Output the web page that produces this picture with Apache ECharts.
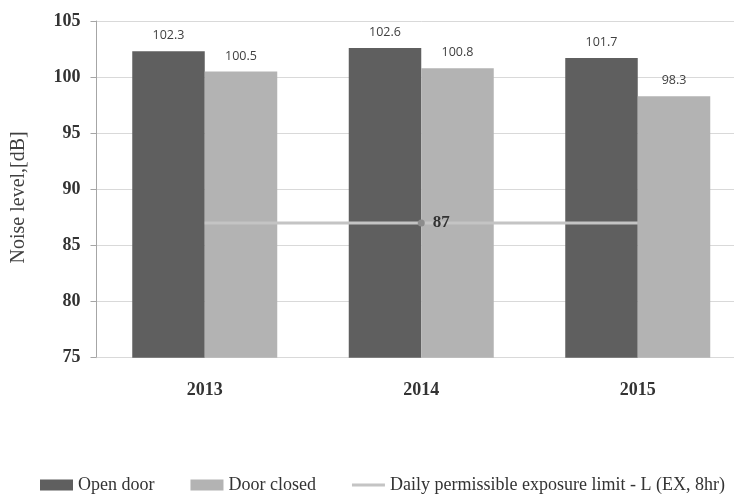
<!DOCTYPE html>
<html>
<head>
<meta charset="utf-8">
<script src="https://cdn.jsdelivr.net/npm/echarts@6/dist/echarts.min.js"></script>
<style>
  html, body { margin: 0; padding: 0; background: #ffffff; overflow: hidden; }
  #chart { width: 760px; height: 495px; }
</style>
</head>
<body>
<div id="chart"></div>
<script>
// Measured noise levels per year
const years = ['2013', '2014', '2015'];
const openDoor = [102.3, 102.6, 101.7];
const doorClosed = [100.5, 100.8, 98.3];
const exposureLimit = [87, 87, 87];
const limitLabelIndex = 1;

const yMin = 75, yMax = 105, yStep = 5;

const serif = '"Liberation Serif", "Times New Roman", serif';
const sans = '"Open Sans", "Noto Sans", sans-serif';

const chart = echarts.init(document.getElementById('chart'), null, { renderer: 'canvas' });

const valueLabel = {
  show: true,
  position: 'top',
  distance: 9,
  color: '#404040',
  fontFamily: sans,
  fontSize: 12.5,
  formatter: p => p.value.toFixed(1)
};

chart.setOption({
  animation: false,
  backgroundColor: '#ffffff',
  grid: { left: 96.5, top: 21, width: 649.5, height: 336.7, containLabel: false },
  legend: {
    left: 35,
    top: 471,
    itemWidth: 33,
    itemHeight: 11,
    itemGap: 36,
    textStyle: { fontFamily: serif, fontSize: 18, color: '#333333' },
    data: [
      { name: 'Open door', icon: 'rect' },
      { name: 'Door closed', icon: 'rect' },
      { name: 'Daily permissible exposure limit - L (EX, 8hr)', icon: 'path://M0,0H33V3H0Z', itemStyle: { color: '#c4c4c4' } }
    ]
  },
  xAxis: {
    type: 'category',
    data: years,
    axisLine: { show: true, lineStyle: { color: '#d9d9d9', width: 1 } },
    axisTick: { show: false },
    axisLabel: { margin: 24, fontFamily: serif, fontSize: 18, fontWeight: 'bold', color: '#333333' }
  },
  yAxis: {
    type: 'value',
    min: yMin,
    max: yMax,
    interval: yStep,
    name: 'Noise level,[dB]',
    nameLocation: 'middle',
    nameRotate: 90,
    nameGap: 68,
    nameTextStyle: { fontFamily: serif, fontSize: 20, color: '#404040', padding: [0, 16, 0, 0] },
    axisLine: { show: true, lineStyle: { color: '#a6a6a6', width: 1 } },
    axisTick: { show: true, inside: false, length: 6, lineStyle: { color: '#a6a6a6' } },
    axisLabel: { margin: 16, fontFamily: serif, fontSize: 18, fontWeight: 'bold', color: '#333333' },
    splitLine: { show: true, lineStyle: { color: '#d9d9d9', width: 1 } }
  },
  series: [
    {
      name: 'Open door',
      type: 'bar',
      data: openDoor,
      barWidth: 72.5,
      barGap: '0%',
      itemStyle: { color: '#5f5f5f' },
      label: valueLabel
    },
    {
      name: 'Door closed',
      type: 'bar',
      data: doorClosed,
      barWidth: 72.5,
      barGap: '0%',
      itemStyle: { color: '#b3b3b3' },
      label: valueLabel
    },
    {
      name: 'Daily permissible exposure limit - L (EX, 8hr)',
      type: 'line',
      z: 5,
      data: exposureLimit.map((v, i) => i === limitLabelIndex
        ? {
            value: v,
            symbol: 'circle',
            symbolSize: 7,
            label: {
              show: true,
              position: 'right',
              distance: 8,
              fontFamily: serif,
              fontSize: 17,
              fontWeight: 'bold',
              color: '#333333',
              formatter: '{c}'
            }
          }
        : { value: v, symbol: 'none' }),
      lineStyle: { color: '#c4c4c4', width: 3 },
      itemStyle: { color: '#8c8c8c' },
      emphasis: { disabled: true }
    }
  ]
});
</script>
</body>
</html>
